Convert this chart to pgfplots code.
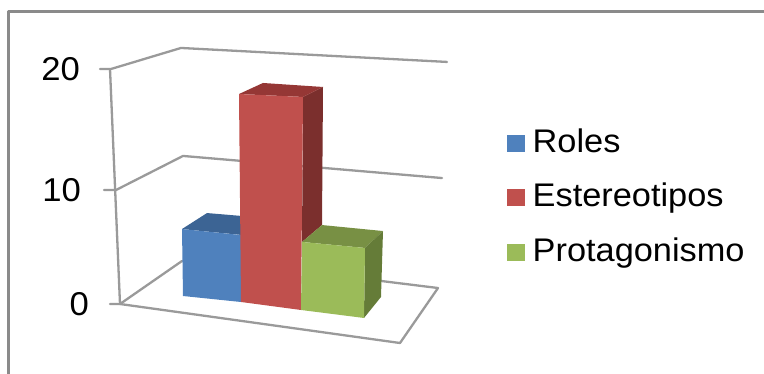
\documentclass[border=0pt]{standalone}
\usepackage{pgfplots}
\pgfplotsset{compat=1.18}
\usepackage{fontspec}
\setmainfont{Liberation Sans}[FakeStretch=1.05]

% Face colours of the three bars
\definecolor{blueFront}{HTML}{4F81BD}
\definecolor{blueTop}{HTML}{3C6494}
\definecolor{redFront}{HTML}{C0504D}
\definecolor{redTop}{HTML}{953735}
\definecolor{redSide}{HTML}{7B2F2D}
\definecolor{greenFront}{HTML}{9BBB59}
\definecolor{greenTop}{HTML}{789044}
\definecolor{greenSide}{HTML}{657C38}
\definecolor{gridGrey}{HTML}{9A9A9A}
\definecolor{frameGrey}{HTML}{8A8A8A}

\begin{document}
\begin{tikzpicture}
\useasboundingbox (0,0) rectangle (764pt,374pt);
\begin{axis}[
  scale only axis, width=764pt, height=374pt,
  xmin=0, xmax=764, ymin=-5.957, ymax=25.872,
  hide axis, no markers,
  legend cell align=left,
  legend image code/.code={\fill[#1] (0pt,-7.5pt) rectangle (18pt,9.5pt);},
  legend style={
    draw=none, fill=none, at={(axis cs:507,14.98)}, anchor=north west,
    font=\fontsize{32.7}{36}\selectfont, inner sep=0pt, row sep=22.6pt,
    column sep=7.5pt,
    nodes={inner sep=0pt, text height=24pt, text depth=8pt, anchor=west},
  },
  every axis plot/.append style={line join=round, line cap=round},
  gl/.style={draw=gridGrey, line width=2.3pt},
  face/.style={draw=none, fill=#1, forget plot},
]
% Outer frame: top and left edges only
\addplot[draw=frameGrey, line width=3pt, forget plot] coordinates {(8.5,-5.957) (8.5,24.89) (764,24.89)};

% Walls, tick stubs and floor
\addplot[gl, forget plot] coordinates {(100,20) (111,20) (181,21.79) (447,20.60)};
\addplot[gl, forget plot] coordinates {(104,9.70) (116,9.70) (183,12.60) (442,10.72)};
\addplot[gl, forget plot] coordinates {(110,20) (120,0)};
\addplot[gl, forget plot] coordinates {(182,3.66) (120,0) (110,0)};
\addplot[gl, forget plot] coordinates {(120,0) (400,-3.32) (438,1.36) (381,1.96)};

% Roles
\addplot[face=blueTop] coordinates {(182,6.38) (207,7.74) (242,7.49) (242,5.87)};
\addplot[draw=none, fill=blueFront] coordinates {(182,6.38) (241,5.87) (241,0.17) (183,0.68)};

% Estereotipos
\addplot[face=redSide] coordinates {(303,17.62) (323,18.47) (322,6.72) (302,5.28)};
\addplot[face=redTop] coordinates {(239,17.87) (263,18.81) (323,18.47) (303,17.62)};
\addplot[draw=none, fill=redFront] coordinates {(239,17.87) (303,17.62) (301,-0.51) (241,0.17)};

% Protagonismo
\addplot[face=greenTop] coordinates {(302,5.28) (322,6.72) (383,6.21) (365,4.77)};
\addplot[face=greenSide] coordinates {(365,4.77) (383,6.21) (381,0.60) (364,-1.19)};
\addplot[draw=none, fill=greenFront] coordinates {(302,5.28) (365,4.77) (364,-1.19) (301,-0.51)};

\legend{Roles, Estereotipos, Protagonismo}

% Value labels on the axis
\node[anchor=east, inner sep=0pt, font=\fontsize{33}{36}\selectfont] at (axis cs:80,20) {20};
\node[anchor=east, inner sep=0pt, font=\fontsize{33}{36}\selectfont] at (axis cs:81,9.70) {10};
\node[anchor=east, inner sep=0pt, font=\fontsize{33}{36}\selectfont] at (axis cs:89,0) {0};
\end{axis}
\end{tikzpicture}
\end{document}
